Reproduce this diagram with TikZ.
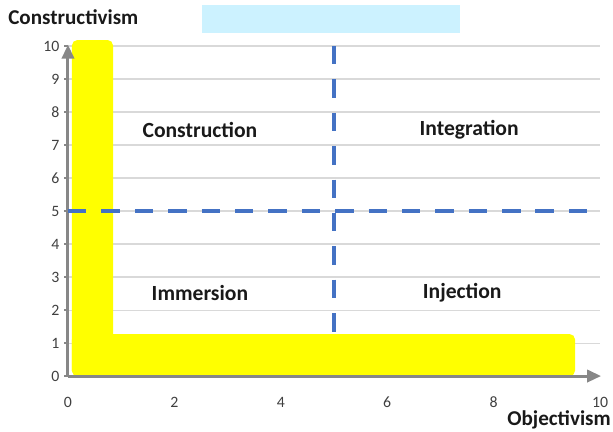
\documentclass[tikz,border=0pt]{standalone}
\usepackage{fontspec}
\setmainfont{Carlito}
\usepackage{xcolor}
\usetikzlibrary{arrows.meta, positioning}
\definecolor{baryellow}{HTML}{FFFF00}
\definecolor{splitblue}{HTML}{4472C4}
\definecolor{titlecyan}{HTML}{CCF2FF}
\definecolor{axisgray}{HTML}{878787}
\definecolor{gridgray}{HTML}{D9D9D9}
\definecolor{ticktext}{HTML}{404040}

\begin{document}
\begin{tikzpicture}[x=1.064cm, y=0.66cm,
    gridline/.style={gridgray, line width=0.6pt},
    axisline/.style={axisgray, line width=1.7pt, -{Triangle[length=8pt, width=7pt]}},
    splitline/.style={splitblue, line width=2.3pt, dash pattern=on 10.5pt off 8.5pt},
    ticklabel/.style={ticktext, font=\fontsize{9}{11}\selectfont, inner sep=1pt},
    quadlabel/.style={font=\fontsize{12.3}{14}\selectfont\bfseries, text=black!90},
    axistitle/.style={font=\fontsize{12}{14}\selectfont\bfseries, text=black!90}]
    \useasboundingbox (-1.278,-1.667) rectangle (10.244,11.394);

    % Title box
    \fill[titlecyan] (2.52,10.39) rectangle (7.37,11.24);

    % Grid lines
    \foreach \y in {1,...,10}
        \draw[gridline] (0,\y) -- (10,\y);

    % Yellow L shape
    \def\barw{0.846}
    \def\barh{1.27}
    \fill[baryellow, rounded corners=3pt] (0.075,0) rectangle (\barw,10.18);
    \fill[baryellow, rounded corners=3pt] (0.075,0) rectangle (9.53,\barh);

    % Axes
    \coordinate (origin) at (0,0);
    \coordinate (xtip) at (10.02,0);
    \coordinate (ytip) at (0,10.04);
    \draw[axisline] (origin) -- (xtip);
    \draw[axisline] (origin) -- (ytip);

    % Ticks and tick labels
    \foreach \y in {0,...,10} {
        \draw[axisgray, line width=1pt] (-0.07,\y) -- (0,\y);
        \node[ticklabel, left] (ty\y) at (-0.12,\y) {\y};
    }
    \foreach \x in {0,2,...,10}
        \node[ticklabel] (tx\x) at (\x,-0.8) {\x};

    % Quadrant split lines
    \coordinate (vtop) at (5,10);
    \coordinate (vbot) at (5,1.34);
    \coordinate (hleft) at (0,5);
    \coordinate (hright) at (10,5);
    \draw[splitline] (vtop) -- (vbot);
    \draw[splitline] (hleft) -- (hright);

    % Quadrant labels
    \node[quadlabel] (construction) at (2.48,7.45) {Construction};
    \node[quadlabel] (integration) at (7.54,7.45) {Integration};
    \node[quadlabel] (immersion) at (2.48,2.52) {Immersion};
    \node[quadlabel] (injection) at (7.41,2.52) {Injection};

    % Axis titles
    \node[axistitle] (ytitle) at (0.1,10.88) {Constructivism};
    \node[axistitle] (xtitle) at (9.23,-1.33) {Objectivism};
\end{tikzpicture}
\end{document}
